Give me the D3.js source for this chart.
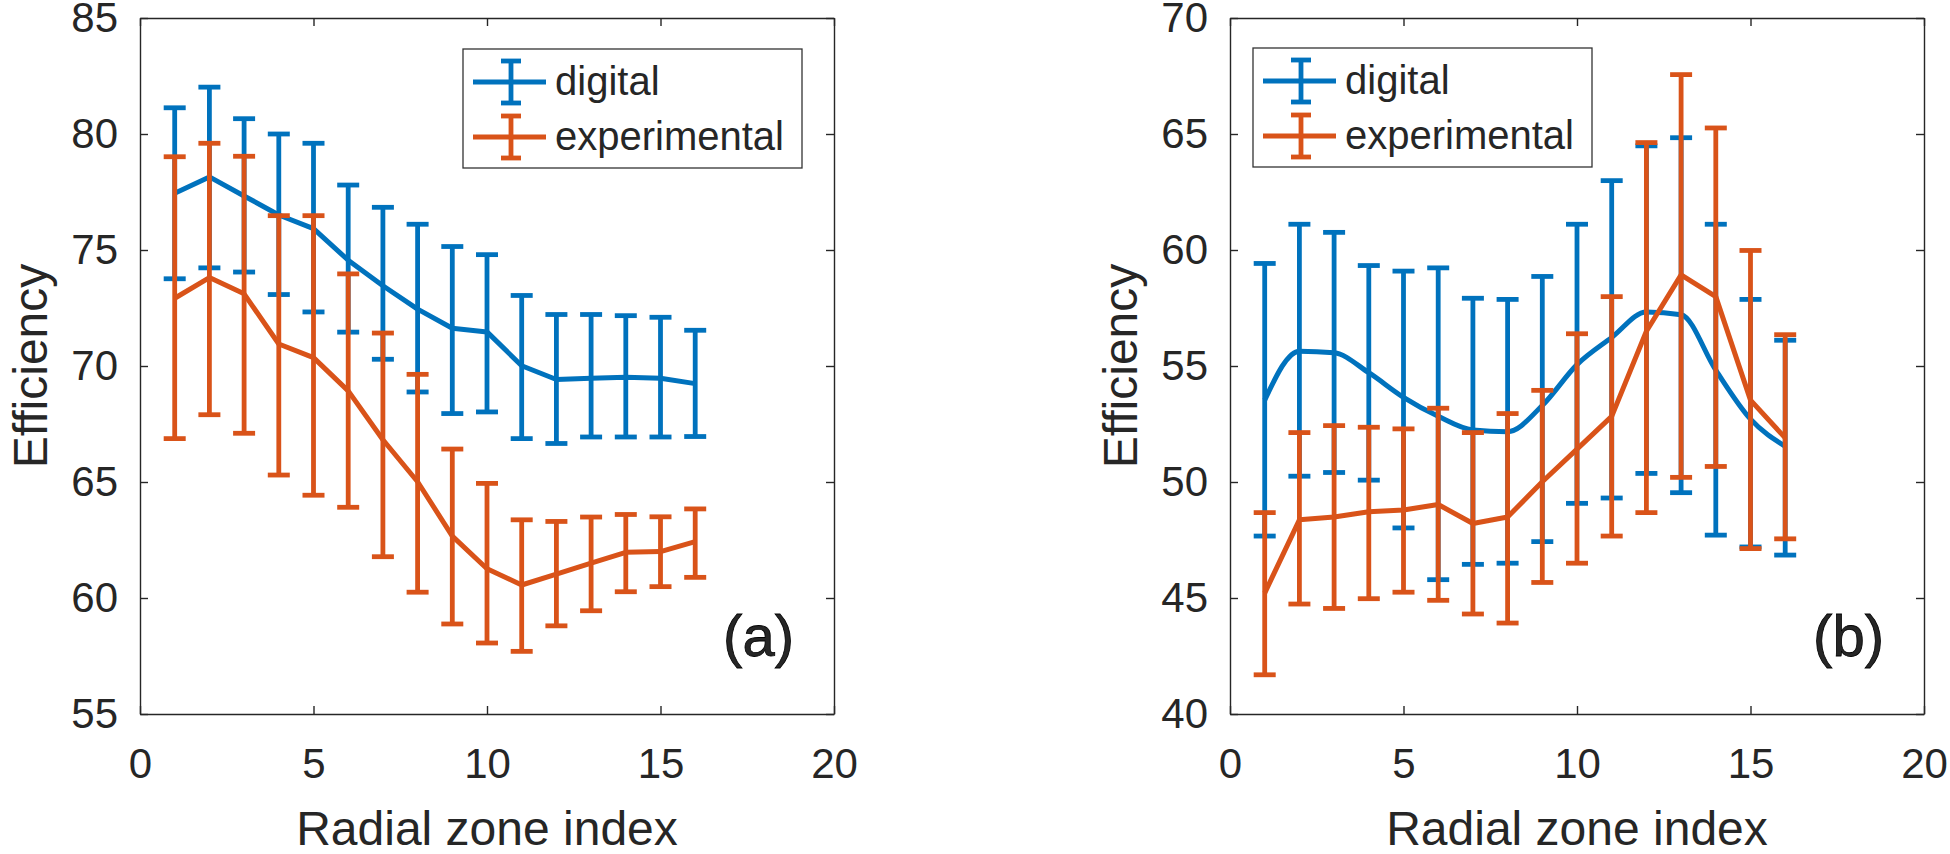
<!DOCTYPE html>
<html>
<head>
<meta charset="utf-8">
<script src="https://cdn.jsdelivr.net/npm/d3@7"></script>
<style>
  html, body { margin: 0; padding: 0; background: #ffffff; }
  svg { display: block; }
  text { font-family: "Liberation Sans", Arial, Helvetica, sans-serif; fill: #262626; }
</style>
</head>
<body>
<svg id="chart" width="1950" height="854"></svg>
<script>
// ---------------- data ----------------
const zoneIndex = [1, 2, 3, 4, 5, 6, 7, 8, 9, 10, 11, 12, 13, 14, 15, 16];
const seriesNames = ["digital", "experimental"];
const xTicks = [0, 5, 10, 15, 20];

// panel (a)
const aDigitalMean = [77.45, 78.15, 77.33, 76.51, 75.92, 74.56, 73.46, 72.45, 71.63, 71.47, 70.01, 69.42, 69.47, 69.52, 69.47, 69.24];
const aDigitalHigh = [81.13, 82.02, 80.66, 80.0, 79.6, 77.8, 76.84, 76.11, 75.15, 74.8, 73.04, 72.22, 72.22, 72.17, 72.1, 71.54];
const aDigitalLow  = [73.76, 74.23, 74.05, 73.08, 72.33, 71.46, 70.29, 68.88, 67.95, 68.02, 66.87, 66.66, 66.94, 66.94, 66.94, 66.96];
const aExpMean = [72.92, 73.81, 73.11, 70.95, 70.36, 68.93, 66.82, 65.01, 62.67, 61.26, 60.56, 61.03, 61.5, 61.97, 62.0, 62.43];
const aExpHigh = [79.02, 79.6, 79.04, 76.48, 76.48, 73.97, 71.42, 69.64, 66.42, 64.94, 63.37, 63.3, 63.49, 63.6, 63.5, 63.84];
const aExpLow  = [66.87, 67.9, 67.1, 65.3, 64.43, 63.91, 61.78, 60.25, 58.88, 58.06, 57.7, 58.8, 59.45, 60.27, 60.49, 60.89];
const aYTicks = [55, 60, 65, 70, 75, 80, 85];

// panel (b)
const bDigitalMean = [53.53, 55.64, 55.57, 54.71, 53.65, 52.83, 52.24, 52.17, 53.3, 55.06, 56.23, 57.33, 57.21, 54.82, 52.71, 51.54];
const bDigitalHigh = [59.42, 61.11, 60.76, 59.33, 59.09, 59.23, 57.92, 57.87, 58.86, 61.11, 62.99, 64.49, 64.84, 61.11, 57.87, 56.11];
const bDigitalLow  = [47.67, 50.25, 50.41, 50.08, 48.02, 45.79, 46.45, 46.5, 47.43, 49.08, 49.31, 50.37, 49.54, 47.71, 47.2, 46.85];
const bExpMean = [45.21, 48.37, 48.49, 48.72, 48.79, 49.03, 48.21, 48.49, 50.01, 51.42, 52.83, 56.5, 58.93, 57.99, 53.53, 51.9];
const bExpHigh = [48.68, 52.13, 52.43, 52.36, 52.29, 53.18, 52.13, 52.95, 53.95, 56.39, 57.99, 64.63, 67.56, 65.26, 59.98, 56.35];
const bExpLow  = [41.69, 44.74, 44.55, 44.97, 45.25, 44.9, 44.31, 43.92, 45.67, 46.5, 47.67, 48.68, 50.2, 50.67, 47.13, 47.55];
const bYTicks = [40, 45, 50, 55, 60, 65, 70];

// ---------------- styles ----------------
const colors = ["#0072BD", "#D95319"];
const LW = 5, EW = 4.8, CAP = 11;
const svg = d3.select("#chart");

function panel(opts) {
  const { left, right, top, bottom, yDomain, yTicks, series, smoothDigital, tag } = opts;
  const x = d3.scaleLinear().domain([0, 20]).range([left, right]);
  const y = d3.scaleLinear().domain(yDomain).range([bottom, top]);
  const g = svg.append("g");

  const axisStyle = sel => {
    sel.selectAll("path.domain").attr("stroke", "#262626").attr("stroke-width", 1.4);
    sel.selectAll(".tick line").attr("stroke", "#262626").attr("stroke-width", 1.4);
  };

  // axes (ticks pointing inward, box on)
  g.append("g").attr("transform", `translate(0,${bottom})`)
    .call(d3.axisBottom(x).tickValues(xTicks).tickSizeInner(-8).tickSizeOuter(0).tickPadding(34))
    .call(axisStyle)
    .call(s => s.selectAll("text").attr("font-size", 42).attr("fill", "#262626")
      .attr("font-family", "'Liberation Sans', Arial, sans-serif"));
  g.append("g").attr("transform", `translate(0,${top})`)
    .call(d3.axisTop(x).tickValues(xTicks).tickSizeInner(-8).tickSizeOuter(0).tickFormat(""))
    .call(axisStyle);
  g.append("g").attr("transform", `translate(${left},0)`)
    .call(d3.axisLeft(y).tickValues(yTicks).tickSizeInner(-8).tickSizeOuter(0).tickPadding(22))
    .call(axisStyle)
    .call(s => s.selectAll("text").attr("font-size", 42).attr("fill", "#262626")
      .attr("font-family", "'Liberation Sans', Arial, sans-serif"));
  g.append("g").attr("transform", `translate(${right},0)`)
    .call(d3.axisRight(y).tickValues(yTicks).tickSizeInner(-8).tickSizeOuter(0).tickFormat(""))
    .call(axisStyle);

  // series
  series.forEach((s, i) => {
    const data = zoneIndex.map((z, k) => ({ x: z, m: s.mean[k], hi: s.high[k], lo: s.low[k] }));
    const sg = g.append("g");
    const curve = (i === 0 && smoothDigital) ? d3.curveMonotoneX : d3.curveLinear;
    sg.append("path")
      .datum(data)
      .attr("fill", "none")
      .attr("stroke", colors[i])
      .attr("stroke-width", LW)
      .attr("stroke-linejoin", "round")
      .attr("d", d3.line().curve(curve).x(d => x(d.x)).y(d => y(d.m)));
    const eb = sg.selectAll("g.eb").data(data).enter().append("g");
    eb.append("line")
      .attr("x1", d => x(d.x)).attr("x2", d => x(d.x))
      .attr("y1", d => y(d.hi)).attr("y2", d => y(d.lo))
      .attr("stroke", colors[i]).attr("stroke-width", EW);
    eb.append("line")
      .attr("x1", d => x(d.x) - CAP).attr("x2", d => x(d.x) + CAP)
      .attr("y1", d => y(d.hi)).attr("y2", d => y(d.hi))
      .attr("stroke", colors[i]).attr("stroke-width", EW);
    eb.append("line")
      .attr("x1", d => x(d.x) - CAP).attr("x2", d => x(d.x) + CAP)
      .attr("y1", d => y(d.lo)).attr("y2", d => y(d.lo))
      .attr("stroke", colors[i]).attr("stroke-width", EW);
  });

  // axis titles
  g.append("text")
    .attr("x", (left + right) / 2).attr("y", 845)
    .attr("text-anchor", "middle").attr("font-size", 48)
    .text("Radial zone index");
  g.append("text")
    .attr("transform", `translate(${left - 93},${(top + bottom) / 2}) rotate(-90)`)
    .attr("text-anchor", "middle").attr("font-size", 48)
    .text("Efficiency");

  // panel tag
  g.append("text")
    .attr("x", right - 40).attr("y", 656)
    .attr("text-anchor", "end").attr("font-size", 58)
    .attr("fill", "#000").attr("stroke", "#000").attr("stroke-width", 0.8)
    .text(tag);

  // legend
  const lg = g.append("g").attr("transform", `translate(${opts.legendX},${opts.legendY})`);
  lg.append("rect").attr("x", 0).attr("y", 0).attr("width", 339).attr("height", 119)
    .attr("fill", "#fff").attr("stroke", "#333").attr("stroke-width", 1.3);
  seriesNames.forEach((name, i) => {
    const cy = 33 + i * 55;
    lg.append("line").attr("x1", 10).attr("x2", 83).attr("y1", cy).attr("y2", cy)
      .attr("stroke", colors[i]).attr("stroke-width", LW);
    lg.append("line").attr("x1", 48).attr("x2", 48).attr("y1", cy - 21).attr("y2", cy + 21)
      .attr("stroke", colors[i]).attr("stroke-width", EW);
    lg.append("line").attr("x1", 48 - CAP + 1).attr("x2", 48 + CAP - 1).attr("y1", cy - 21).attr("y2", cy - 21)
      .attr("stroke", colors[i]).attr("stroke-width", EW);
    lg.append("line").attr("x1", 48 - CAP + 1).attr("x2", 48 + CAP - 1).attr("y1", cy + 21).attr("y2", cy + 21)
      .attr("stroke", colors[i]).attr("stroke-width", EW);
    lg.append("text").attr("x", 92).attr("y", cy + 13).attr("font-size", 40)
      .attr("fill", "#000").text(name);
  });
}

panel({
  left: 140, right: 834, top: 18, bottom: 714,
  yDomain: [55, 85], yTicks: aYTicks, tag: "(a)", smoothDigital: false,
  legendX: 463, legendY: 49,
  series: [
    { mean: aDigitalMean, high: aDigitalHigh, low: aDigitalLow },
    { mean: aExpMean, high: aExpHigh, low: aExpLow }
  ]
});

panel({
  left: 1230, right: 1924, top: 18, bottom: 714,
  yDomain: [40, 70], yTicks: bYTicks, tag: "(b)", smoothDigital: true,
  legendX: 1253, legendY: 48,
  series: [
    { mean: bDigitalMean, high: bDigitalHigh, low: bDigitalLow },
    { mean: bExpMean, high: bExpHigh, low: bExpLow }
  ]
});
</script>
</body>
</html>
